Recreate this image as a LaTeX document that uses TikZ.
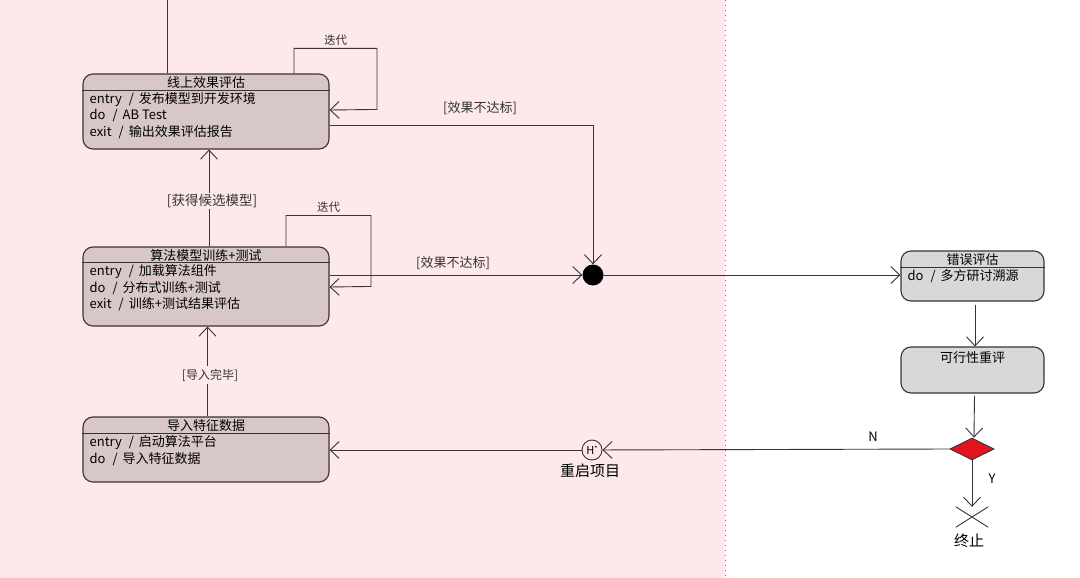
\documentclass[tikz,border=0pt]{standalone}
\usepackage{fontspec}
\setmainfont{Noto Sans CJK SC}
\usetikzlibrary{arrows.meta,shapes.geometric}
\definecolor{bgpink}{RGB}{253,232,235}
\definecolor{boxpink}{RGB}{216,199,201}
\definecolor{boxgray}{RGB}{216,216,216}
\definecolor{linec}{RGB}{58,50,52}
\definecolor{dred}{RGB}{228,20,30}
\newcommand{\actsep}{\hspace{7pt}/\hspace{5pt}}
\begin{document}
\begin{tikzpicture}[x=1pt,y=-1pt,
  state/.style={draw=linec, line width=1.1pt, rounded corners=10pt, inner sep=0pt, minimum width=246pt},
  ttl/.style={font=\fontsize{13}{14}\selectfont, inner sep=0pt},
  body/.style={font=\fontsize{13}{16.5}\selectfont, align=left, anchor=north west, inner sep=0pt},
  lbl/.style={font=\fontsize{13}{14}\selectfont, inner sep=1.5pt, text=black!80},
  conn/.style={draw=linec, line width=0.9pt},
  arr/.style={conn, -{Straight Barb[length=9pt,width=17pt,line width=0.9pt]}},
]
\useasboundingbox (0,0) rectangle (1080,578);
\fill[white] (0,0) rectangle (1080,578);
\fill[bgpink] (0,0) rectangle (725,578);
\draw[gray, dash pattern=on 1.2pt off 3.8pt, line width=1pt] (725.5,0) -- (725.5,578);

% --- left states ---
\node[state, fill=boxpink, minimum height=75pt] (b1) at (206,111.5) {};
\draw[conn] ([yshift=-17pt]b1.north west) -- ([yshift=-17pt]b1.north east);
\node[ttl] (b1t) at ([yshift=-9pt]b1.north) {线上效果评估};
\node[body] (b1b) at ([xshift=7pt,yshift=-18.5pt]b1.north west) {entry\actsep 发布模型到开发环境\\do\actsep AB Test\\exit\actsep 输出效果评估报告};

\node[state, fill=boxpink, minimum height=79pt] (b2) at (206,286.5) {};
\draw[conn] ([yshift=-16pt]b2.north west) -- ([yshift=-16pt]b2.north east);
\node[ttl] (b2t) at ([yshift=-9pt]b2.north) {算法模型训练+测试};
\node[body] (b2b) at ([xshift=7pt,yshift=-18pt]b2.north west) {entry\actsep 加载算法组件\\do\actsep 分布式训练+测试\\exit\actsep 训练+测试结果评估};

\node[state, fill=boxpink, minimum height=65pt] (b3) at (206,449.5) {};
\draw[conn] ([yshift=-17pt]b3.north west) -- ([yshift=-17pt]b3.north east);
\node[ttl] (b3t) at ([yshift=-9.5pt]b3.north) {导入特征数据};
\node[body] (b3b) at ([xshift=7pt,yshift=-19pt]b3.north west) {entry\actsep 启动算法平台\\do\actsep 导入特征数据};

% --- right states ---
\node[state, fill=boxgray, minimum width=143pt, minimum height=50pt] (b4) at (972.5,276) {};
\draw[conn] ([yshift=-17pt]b4.north west) -- ([yshift=-17pt]b4.north east);
\node[ttl] (b4t) at ([yshift=-9.5pt]b4.north) {错误评估};
\node[body] (b4b) at ([xshift=7pt,yshift=-19pt]b4.north west) {do\actsep 多方研讨溯源};

\node[state, fill=boxgray, minimum width=143pt, minimum height=46pt] (b5) at (972.5,370) {};
\node[ttl] (b5t) at ([yshift=-11pt]b5.north) {可行性重评};

% --- pseudo states ---
\node[circle, fill=black, minimum size=21pt, inner sep=0pt] (j) at (593,275) {};
\node[circle, draw=linec, line width=0.9pt, fill=bgpink, minimum size=20pt, inner sep=0pt, font=\fontsize{11}{11}\selectfont] (h) at (592,450) {H\raisebox{3pt}{\fontsize{7}{7}\selectfont *}};
\node[font=\fontsize{15}{16}\selectfont, inner sep=0pt] (hl) at (590,471) {重启项目};
\node[diamond, draw=linec, line width=0.9pt, fill=dred, minimum width=44pt, minimum height=22pt, aspect=2, inner sep=0pt] (d) at (972,449) {};
\node[minimum width=32pt, minimum height=20pt, inner sep=0pt] (term) at (972,517) {};
\draw[conn] (term.north west) -- (term.south east) (term.south west) -- (term.north east);
\node[font=\fontsize{15}{16}\selectfont, inner sep=0pt] (tl) at (969,541) {终止};

% --- connectors ---
\coordinate (topin) at (167,0);
\draw[conn] (topin) -- (topin |- b1.north);

\draw[arr] ([xshift=88pt]b1.north) -- ++(0,-25) -- node[lbl, above=1pt, font=\fontsize{11.5}{13}\selectfont] (it1) {迭代} ++(83,0) -- ++(0,61) -- ([yshift=1.5pt]b1.east);
\draw[arr] ([xshift=80pt]b2.north) -- ++(0,-31) -- node[lbl, above=1pt, font=\fontsize{11.5}{13}\selectfont] (it2) {迭代} ++(85,0) -- ++(0,71) -- ([yshift=-0.5pt]b2.east);

\draw[arr] ([yshift=-13.5pt]b1.east) -| (j);
\node[lbl] (g1) at (480,108) {[效果不达标]};
\draw[arr] (b2.east |- j) -- (j);
\node[lbl] (g2) at (453,263) {[效果不达标]};
\draw[arr] (j) -- (b4.west |- j);

\draw[arr] ([xshift=3pt]b2.north) -- ([xshift=3pt]b1.south);
\node[lbl, fill=bgpink, font=\fontsize{13.5}{14}\selectfont] (g3) at (212,201) {[获得候选模型]};
\draw[arr] ([xshift=1.5pt]b3.north) -- ([xshift=1.5pt]b2.south);
\node[lbl, fill=bgpink, inner sep=3pt, font=\fontsize{12}{14}\selectfont] (g4) at (210,375) {[导入完毕]};

\draw[arr] ([xshift=2.5pt,yshift=-3pt]b4.south) -- ([xshift=2.5pt]b5.north);
\draw[arr] ([xshift=2pt,yshift=-2pt]b5.south) -- ([xshift=2pt]d.north);
\draw[arr] (d.west) -- (h);
\node[font=\fontsize{13}{14}\selectfont, inner sep=0pt] (nl) at (873,437) {N};
\draw[arr] (h) -- (b3.east |- h);
\draw[arr] (d.south) -- (term.north);
\node[font=\fontsize{13}{14}\selectfont, inner sep=0pt] (yl) at (992,479) {Y};
\end{tikzpicture}
\end{document}
